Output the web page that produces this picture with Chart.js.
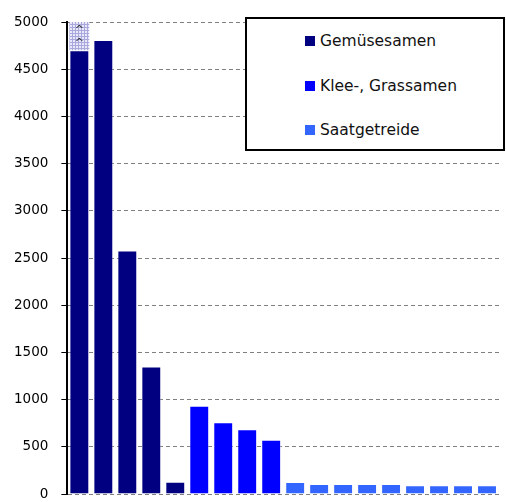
<!DOCTYPE html>
<html>
<head>
<meta charset="utf-8">
<script src="https://cdn.jsdelivr.net/npm/chart.js@4/dist/chart.umd.min.js"></script>
<style>
  html, body { margin: 0; padding: 0; background: #fff; }
  #wrap { position: relative; width: 506px; height: 502px; }
  canvas { display: block; }
  #legend {
    position: absolute; left: 245px; top: 17px; width: 260px; height: 134px;
    background: #fff; border: 2px solid #000; box-sizing: border-box;
    font-family: "DejaVu Sans", sans-serif; font-size: 15.5px; color: #111;
  }
  #legend .item { position: absolute; left: 58px; display: flex; align-items: center; }
  #legend .box { width: 10px; height: 10px; margin-right: 5px; }
</style>
</head>
<body>
<div id="wrap">
  <canvas id="chart" width="506" height="502"></canvas>
  <div id="legend"></div>
</div>
<script>
const categories = ['1', '2', '3', '4', '5', '6', '7', '8', '9', '10', '11', '12', '13', '14', '15', '16', '17', '18'];
const seriesNames = ['Gemüsesamen', 'Klee-, Grassamen', 'Saatgetreide'];
const seriesColors = ['#000080', '#0000ff', '#3366ff'];
const gemuese = [4700, 4810, 2580, 1350, 130, null, null, null, null, null, null, null, null, null, null, null, null, null];
const klee = [null, null, null, null, null, 935, 760, 685, 575, null, null, null, null, null, null, null, null, null];
const saat = [null, null, null, null, null, null, null, null, null, 127, 106, 106, 106, 106, 92, 92, 92, 92];
// part of the first bar above the axis cut (hatched)
const overflow = [300, null, null, null, null, null, null, null, null, null, null, null, null, null, null, null, null, null];
const yTicks = [0, 500, 1000, 1500, 2000, 2500, 3000, 3500, 4000, 4500, 5000];

// hatched fill for the cut-off part
const pc = document.createElement('canvas');
pc.width = 3; pc.height = 3;
const pctx = pc.getContext('2d');
pctx.fillStyle = '#e8e8fa';
pctx.fillRect(0, 0, 3, 3);
pctx.fillStyle = '#a8a8dc';
pctx.fillRect(0, 0, 3, 1);
pctx.fillRect(0, 0, 1, 3);
const hatch = pctx.createPattern(pc, 'repeat');

const breakMarks = {
  id: 'breakMarks',
  afterDatasetsDraw(chart) {
    const meta = chart.getDatasetMeta(3);
    const el = meta.data[0];
    if (!el) return;
    const ctx = chart.ctx;
    const h = el.base - el.y;
    ctx.save();
    ctx.fillStyle = '#333';
    ctx.font = '11px "DejaVu Sans", sans-serif';
    ctx.textAlign = 'center';
    ctx.textBaseline = 'middle';
    ctx.fillText('^', el.x, el.y + h * 0.27);
    ctx.fillText('^', el.x, el.y + h * 0.75);
    ctx.restore();
  }
};

const sets = [gemuese, klee, saat].map((d, i) => ({
  label: seriesNames[i],
  data: d,
  backgroundColor: seriesColors[i],
  borderColor: 'rgba(255,255,255,0.35)',
  borderWidth: 1,
  borderSkipped: 'bottom'
}));
sets.push({
  label: 'overflow',
  data: overflow,
  backgroundColor: hatch,
  borderWidth: 0
});

new Chart(document.getElementById('chart'), {
  type: 'bar',
  data: { labels: categories, datasets: sets },
  options: {
    responsive: false,
    animation: false,
    categoryPercentage: 0.83,
    barPercentage: 1,
    layout: { padding: { left: 1, right: 7, top: 22, bottom: 8 } },
    plugins: { legend: { display: false }, tooltip: { enabled: false } },
    scales: {
      x: { stacked: true, display: false },
      y: {
        stacked: true,
        min: 0,
        max: 5000,
        afterBuildTicks: (s) => { s.ticks = yTicks.map(v => ({ value: v })); },
        // tick padding would otherwise also be added above and below the axis
        afterFit: (s) => { s.paddingTop = 0; s.paddingBottom = 0; },
        ticks: {
          color: '#000',
          padding: 13,
          callback: (v) => String(v),
          font: { family: '"DejaVu Sans", sans-serif', size: 13.5 }
        },
        grid: { color: '#808080', lineWidth: 1, tickColor: '#000', tickLength: 6, tickBorderDash: [] },
        border: { display: true, color: '#000', width: 2, dash: [4, 3] }
      }
    }
  },
  plugins: [breakMarks]
});

const legend = document.getElementById('legend');
seriesNames.forEach((name, i) => {
  const item = document.createElement('div');
  item.className = 'item';
  item.style.top = (13 + i * 44.5) + 'px';
  item.innerHTML = '<span class="box" style="background:' + seriesColors[i] + '"></span><span>' + name + '</span>';
  legend.appendChild(item);
});
</script>
</body>
</html>
